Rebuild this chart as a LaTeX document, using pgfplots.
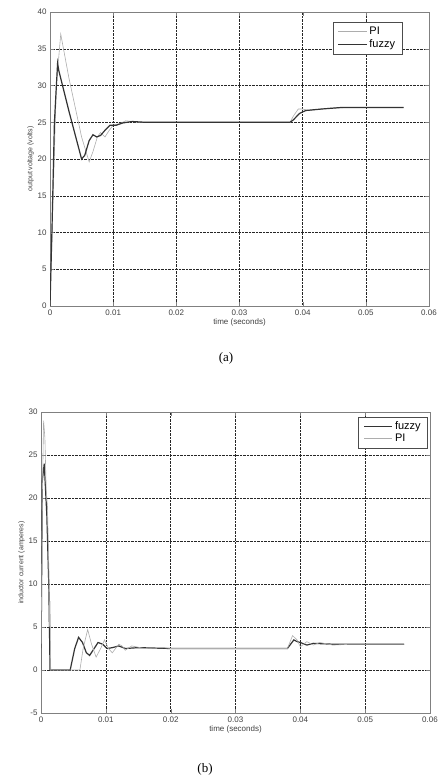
\documentclass[border=0pt]{standalone}
\usepackage{pgfplots}
\pgfplotsset{compat=1.18}
\usepackage{fontspec}
\setmainfont{Liberation Sans}
\newfontfamily\capfont{Liberation Serif}
\definecolor{pigray}{gray}{0.68}
\definecolor{fzgray}{gray}{0.2}
\pgfplotsset{
  mystyle/.style={
    scale only axis,
    xmin=0, xmax=0.06,
    xtick={0,0.01,0.02,0.03,0.04,0.05,0.06},
    xticklabels={0,0.01,0.02,0.03,0.04,0.05,0.06},
    scaled x ticks=false,
    grid=major,
    major grid style={black!85, densely dotted, line width=0.5pt},
    axis line style={gray, line width=0.8pt},
    tick style={gray},
    tick align=inside,
    tick label style={font=\fontsize{8}{9}\selectfont, text=black!75},
    xlabel style={font=\fontsize{8}{9}\selectfont, text=black!75, yshift=3pt},
    ylabel style={font=\fontsize{7}{8}\selectfont, text=black!75, yshift=-3pt},
    /pgf/number format/assume math mode=true,
    legend style={font=\fontsize{11}{12}\selectfont, draw=black!70, line width=0.7pt, inner xsep=5pt, inner ysep=3pt, row sep=-1pt},
    legend cell align=left,
    legend image code/.code={\draw[#1, line width=1.1pt] (0cm,0cm) -- (1.0cm,0cm);},
    xtick pos=both, ytick pos=both,
  }
}
\begin{document}
\begin{tikzpicture}
\useasboundingbox (0,0) rectangle (438pt,-783pt);
\begin{axis}[mystyle,
  at={(50pt,-306pt)}, anchor=south west,
  width=379pt, height=294pt,
  ymin=0, ymax=40, ytick={0,5,...,40},
  xlabel={time (seconds)},
  ylabel={output voltage (volts)},
  legend style={at={(0.93,0.966)}, anchor=north east},
]
\addplot[pigray, line width=0.6pt] coordinates {
(0,0) (0.0005,15) (0.001,30) (0.0017,37) (0.003,31) (0.005,23) (0.0062,19.6)
(0.0068,21) (0.0075,23) (0.008,23.6) (0.0087,23) (0.0093,23.8) (0.010,24.6)
(0.011,24.8) (0.012,25.2) (0.014,25) (0.017,25) (0.02,25) (0.038,25)
(0.0385,25.8) (0.0393,26.8) (0.040,26.8) (0.041,26.6) (0.044,26.9) (0.047,27) (0.056,27)
};
\addlegendentry{PI}
\addplot[fzgray, line width=1.2pt] coordinates {
(0,0) (0.0003,10) (0.0007,25) (0.0012,33) (0.0014,32) (0.003,26.5) (0.005,20)
(0.0055,20.5) (0.0062,22.5) (0.0068,23.3) (0.0074,23) (0.008,23.2) (0.0088,24)
(0.0095,24.6) (0.0105,24.6) (0.0115,24.9) (0.013,25.1) (0.015,25) (0.02,25)
(0.038,25) (0.0385,25.3) (0.0395,26.2) (0.0405,26.6) (0.043,26.8) (0.046,27) (0.056,27)
};
\addlegendentry{fuzzy}
\end{axis}
\node[font=\capfont\fontsize{13}{13}\selectfont] at (226pt,-358pt) {(a)};
\begin{axis}[mystyle,
  at={(41pt,-713pt)}, anchor=south west,
  width=389pt, height=301pt,
  ymin=-5, ymax=30, ytick={-5,0,...,30},
  xlabel={time (seconds)},
  ylabel={inductor current (amperes)},
  legend style={at={(0.995,0.985)}, anchor=north east},
]
\addplot[fzgray, line width=1.2pt] coordinates {
(0,0) (0.0002,22) (0.0005,24) (0.0009,18) (0.0012,10) (0.0014,0) (0.0045,0)
(0.0052,2.5) (0.0058,3.8) (0.0064,3.2) (0.007,2) (0.0075,1.7) (0.0082,2.5)
(0.0088,3.2) (0.0095,3) (0.0102,2.5) (0.011,2.6) (0.012,2.8) (0.013,2.5)
(0.015,2.6) (0.02,2.5) (0.038,2.5) (0.0385,3) (0.039,3.5) (0.0395,3.3)
(0.040,3.2) (0.041,2.9) (0.042,3.1) (0.045,3) (0.056,3)
};
\addlegendentry{fuzzy}
\addplot[pigray, line width=0.6pt] coordinates {
(0,0) (0.0002,20) (0.0004,29) (0.0006,27) (0.0008,21) (0.001,19) (0.0012,12)
(0.0013,5) (0.0014,8) (0.0015,0) (0.006,0) (0.0065,2.5) (0.0072,4.7) (0.0078,3)
(0.0085,1.5) (0.0092,2.5) (0.0098,3.5) (0.0104,2.5) (0.011,2) (0.012,3)
(0.0125,2.8) (0.013,2.3) (0.014,2.8) (0.016,2.5) (0.019,2.6) (0.02,2.5)
(0.038,2.5) (0.0388,4) (0.0395,3.5) (0.040,2.7) (0.041,3.3) (0.042,2.9)
(0.043,3.2) (0.045,2.9) (0.048,3) (0.056,3)
};
\addlegendentry{PI}
\end{axis}
\node[font=\capfont\fontsize{13}{13}\selectfont] at (205pt,-769pt) {(b)};
\end{tikzpicture}
\end{document}
